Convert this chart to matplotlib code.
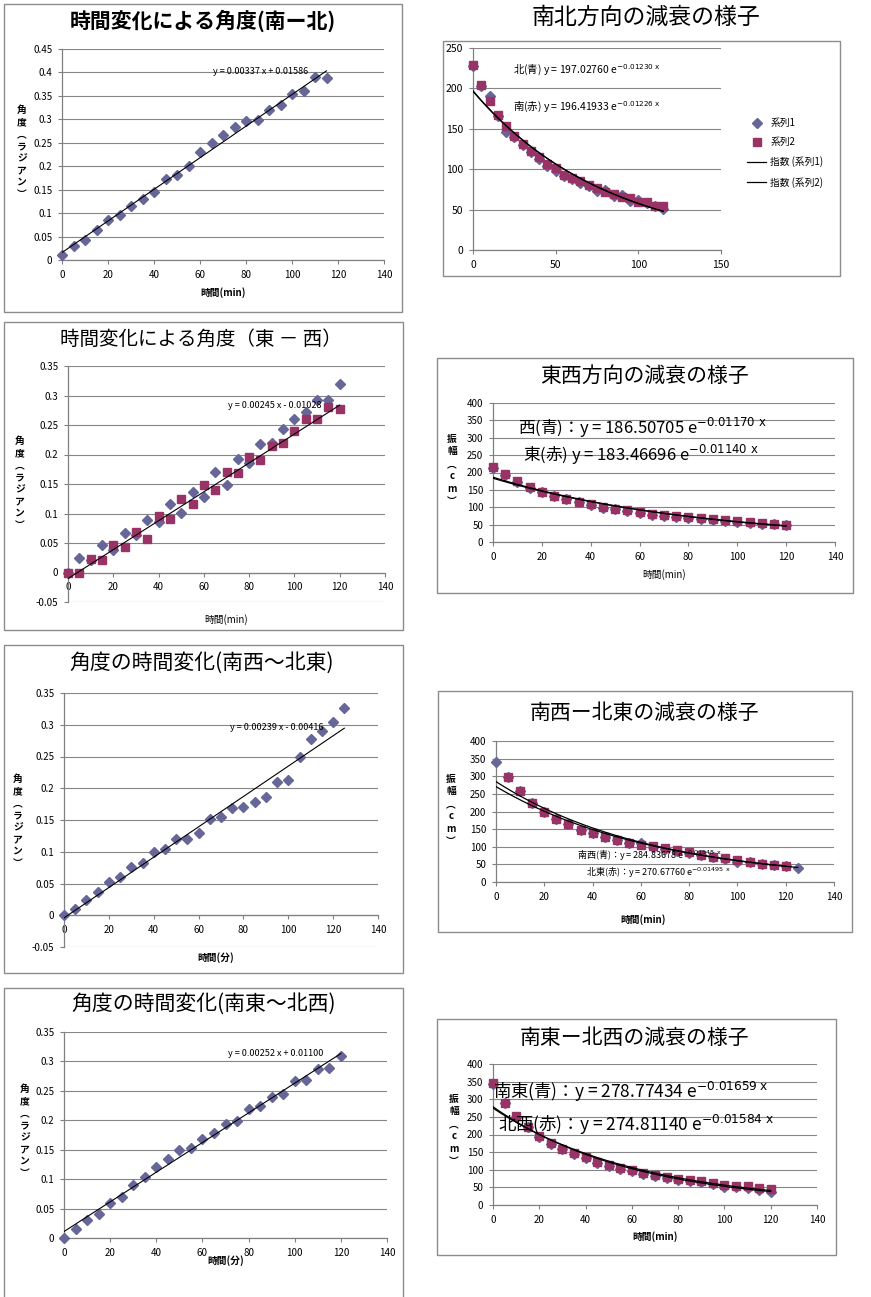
import numpy as np
import matplotlib.pyplot as plt

plt.rcParams['font.family'] = ['Noto Sans CJK JP', 'DejaVu Sans']
plt.rcParams['mathtext.fontset'] = 'dejavusans'

# ---- data ----
# 南北 angle
t_ns = np.arange(0, 120, 5)
ang_ns = [0.01, 0.03, 0.043, 0.065, 0.086, 0.097, 0.116, 0.13, 0.145, 0.173, 0.182, 0.2,
          0.23, 0.25, 0.267, 0.283, 0.297, 0.298, 0.32, 0.33, 0.354, 0.36, 0.39, 0.388]
fit_ns = (0.00337, 0.01586)

# 東西 angle (two series)
t_ew = np.arange(0, 125, 5)
ang_ew_blue = [0.0, 0.024, 0.022, 0.047, 0.038, 0.067, 0.064, 0.089, 0.086, 0.116, 0.101, 0.137, 0.128,
               0.17, 0.149, 0.192, 0.185, 0.218, 0.219, 0.244, 0.26, 0.272, 0.292, 0.293, 0.32]
ang_ew_red = [0.0, 0.0, 0.023, 0.022, 0.046, 0.043, 0.069, 0.057, 0.096, 0.09, 0.125, 0.116, 0.148,
              0.14, 0.17, 0.169, 0.196, 0.19, 0.215, 0.22, 0.24, 0.261, 0.261, 0.28, 0.277]
fit_ew = (0.00245, -0.01028)

# 南西~北東 angle
t_swne = np.arange(0, 130, 5)
ang_swne = [0.0, 0.01, 0.024, 0.036, 0.053, 0.061, 0.076, 0.082, 0.099, 0.104, 0.12, 0.12, 0.13,
            0.151, 0.154, 0.169, 0.17, 0.178, 0.187, 0.21, 0.213, 0.249, 0.278, 0.29, 0.304, 0.326]
fit_swne = (0.00239, -0.00416)

# 南東~北西 angle
t_senw = np.arange(0, 125, 5)
ang_senw = [0.0, 0.015, 0.03, 0.041, 0.06, 0.07, 0.09, 0.103, 0.121, 0.135, 0.15, 0.153, 0.169,
            0.179, 0.193, 0.198, 0.219, 0.224, 0.239, 0.244, 0.266, 0.268, 0.287, 0.288, 0.309]
fit_senw = (0.00252, 0.011)

# 南北 decay
amp_ns_blue = [228, 203, 190, 166, 146, 140, 130, 121, 113, 104, 98, 92, 88, 83, 79, 73, 74, 67,
               68, 61, 62, 58, 54, 51]
amp_ns_red = [229, 204, 184, 167, 154, 141, 131, 122, 115, 106, 101, 93, 89, 85, 80, 77, 72, 69,
              65, 64, 59, 59, 55, 54]
exp_ns = [(197.02760, 0.01230), (196.41933, 0.01226)]

# 東西 decay
amp_ew_blue = [213, 193, 174, 156, 143, 131, 123, 114, 106, 99, 94, 89, 84, 79, 75, 73, 69, 66,
               63, 61, 58, 55, 53, 51, 48]
amp_ew_red = [215, 195, 176, 158, 145, 133, 125, 116, 108, 101, 96, 91, 86, 81, 77, 75, 72, 68,
              65, 63, 60, 57, 55, 53, 50]
exp_ew = [(186.50705, 0.01170), (183.46696, 0.01140)]

# 南西-北東 decay
t_swne_red = np.arange(5, 125, 5)
amp_swne_blue = [340, 297, 257, 225, 199, 180, 165, 148, 138, 127, 118, 112, 112, 100, 93, 88, 82,
                 76, 70, 65, 58, 56, 50, 47, 44, 40]
amp_swne_red = [297, 257, 225, 199, 180, 165, 148, 138, 127, 118, 110, 106, 101, 96, 90, 85, 78,
                72, 67, 61, 58, 52, 49, 44]
exp_swne = [(284.83678, 0.01548), (270.67760, 0.01495)]

# 南東-北西 decay
amp_senw_blue = [343, 288, 250, 220, 194, 174, 158, 144, 132, 120, 111, 103, 96, 89, 83, 78, 72,
                 67, 64, 59, 50, 50, 47, 42, 38]
amp_senw_red = [345, 290, 252, 222, 196, 177, 160, 147, 135, 122, 113, 105, 98, 91, 85, 80, 75,
                70, 67, 62, 58, 55, 53, 48, 44]
exp_senw = [(278.77434, 0.01659), (274.81140, 0.01584)]

BLUE = '#666699'
RED = '#993366'
GRAY = '#868686'

W, H = 871, 1297
fig = plt.figure(figsize=(W / 100, H / 100), dpi=100)


def px_axes(x0, y0, x1, y1):
    return fig.add_axes([x0 / W, 1 - y1 / H, (x1 - x0) / W, (y1 - y0) / H])


def ftext(x, y, s, **kw):
    fig.text(x / W, 1 - y / H, s, **kw)


def frame(x0, y0, x1, y1):
    fig.add_artist(plt.Rectangle((x0 / W, 1 - y1 / H), (x1 - x0) / W, (y1 - y0) / H,
                                 transform=fig.transFigure, fill=False,
                                 edgecolor='#8c8c8c', lw=1.0))


def style(ax, xticks, yticks, xlim=(0, 140)):
    ax.set_xlim(*xlim)
    ax.set_ylim(yticks[0], yticks[-1])
    ax.set_xticks(xticks)
    ax.set_yticks(yticks)
    ax.set_yticklabels([f'{round(v, 3):g}' for v in yticks])
    for s in ['top', 'right']:
        ax.spines[s].set_visible(False)
    for s in ['left', 'bottom']:
        ax.spines[s].set_color('#808080')
        ax.spines[s].set_linewidth(0.9)
    if yticks[0] < 0:
        ax.spines['bottom'].set_position(('data', 0))
    ax.yaxis.grid(True, color=GRAY, lw=0.8)
    ax.set_axisbelow(True)
    ax.tick_params(direction='out', length=3, width=0.8, color='#808080', labelsize=7, pad=4)
    ax.patch.set_alpha(0)


def pts(ax, x, y, kind):
    if kind == 'b':
        ax.plot(x, y, 'D', ms=4.8, color=BLUE, mec=BLUE, clip_on=False, zorder=3)
    else:
        ax.plot(x, y, 's', ms=5.6, color=RED, mec=RED, clip_on=False, zorder=3)


def linfit(ax, x_end, coef):
    xs = np.array([0, x_end])
    ax.plot(xs, coef[0] * xs + coef[1], color='black', lw=0.8, zorder=4)


def expfit(ax, x_end, coef):
    xs = np.linspace(0, x_end, 100)
    return ax.plot(xs, coef[0] * np.exp(-coef[1] * xs), color='black', lw=0.9, zorder=4)[0]


ang_label = '\n'.join('角度︵ラジアン︶')
amp_label = '\n'.join('振幅︵cm︶')
yt_ang45 = list(np.arange(0, 0.451, 0.05))
yt_ang35 = list(np.arange(-0.05, 0.351, 0.05))
yt_amp = list(range(0, 401, 50))
xt = list(range(0, 141, 20))

# ---- panel 1: 時間変化による角度(南ー北) ----
frame(4, 4, 402, 312)
ax = px_axes(62, 49, 384, 260)
style(ax, xt, yt_ang45)
pts(ax, t_ns, ang_ns, 'b')
linfit(ax, 115, fit_ns)
ftext(203, 21, '時間変化による角度(南ー北)', fontsize=15, fontweight='bold', ha='center', va='center')
ftext(261, 71, 'y = 0.00337 x + 0.01586', fontsize=6.5, ha='center', va='center')
ftext(223, 293, '時間(min)', fontsize=7, fontweight='bold', ha='center', va='center')
ftext(22, 152, ang_label, fontsize=7, fontweight='bold', ha='center', va='center', linespacing=1.25)

# ---- panel 2: 南北方向の減衰の様子 ----
frame(443, 41, 840, 276)
ax = px_axes(473, 48, 721, 250)
style(ax, [0, 50, 100, 150], list(range(0, 251, 50)), xlim=(0, 150))
ax.tick_params(labelsize=7.5)
h1 = ax.plot(t_ns, amp_ns_blue, 'D', ms=4.8, color=BLUE, clip_on=False, zorder=3)[0]
h2 = ax.plot(t_ns, amp_ns_red, 's', ms=5.6, color=RED, clip_on=False, zorder=3)[0]
h3 = expfit(ax, 115, exp_ns[0])
h4 = expfit(ax, 115, exp_ns[1])
fig.legend([h1, h2, h3, h4], ['系列1', '系列2', '指数 (系列1)', '指数 (系列2)'],
           loc='upper left', bbox_to_anchor=(747 / W, 1 - 118 / H), frameon=False,
           fontsize=7, labelspacing=0.95, handlelength=2.0, handletextpad=0.4,
           borderaxespad=0, borderpad=0)
ftext(646, 17, '南北方向の減衰の様子', fontsize=16.5, ha='center', va='center')
ftext(513, 70, '北(青) y = 197.02760 e$^{-0.01230\\ \\mathrm{x}}$', fontsize=7.5, ha='left', va='center')
ftext(513, 107, '南(赤) y = 196.41933 e$^{-0.01226\\ \\mathrm{x}}$', fontsize=7.5, ha='left', va='center')

# ---- panel 3: 時間変化による角度（東－西） ----
frame(4, 322, 403, 630)
ax = px_axes(68, 366, 385, 602)
style(ax, xt, yt_ang35)
pts(ax, t_ew, ang_ew_blue, 'b')
pts(ax, t_ew, ang_ew_red, 'r')
linfit(ax, 120, fit_ew)
ftext(201, 339, '時間変化による角度（東 － 西）', fontsize=14, ha='center', va='center')
ftext(275, 405, 'y = 0.00245 x - 0.01028', fontsize=6.5, ha='center', va='center')
ftext(226, 620, '時間(min)', fontsize=7, ha='center', va='center')
ftext(20, 483, ang_label, fontsize=7, fontweight='bold', ha='center', va='center', linespacing=1.25)

# ---- panel 4: 東西方向の減衰の様子 ----
frame(437, 358, 853, 593)
ax = px_axes(493, 403, 835, 542)
style(ax, xt, yt_amp)
pts(ax, t_ew, amp_ew_blue, 'b')
pts(ax, t_ew, amp_ew_red, 'r')
expfit(ax, 120, exp_ew[0])
expfit(ax, 120, exp_ew[1])
ftext(645, 376, '東西方向の減衰の様子', fontsize=15, ha='center', va='center')
ftext(518, 428, '西(青)：y = 186.50705 e$^{-0.01170\\ \\mathrm{x}}$', fontsize=12, ha='left', va='center')
ftext(523, 455, '東(赤) y = 183.46696 e$^{-0.01140\\ \\mathrm{x}}$', fontsize=12, ha='left', va='center')
ftext(664, 575, '時間(min)', fontsize=7, ha='center', va='center')
ftext(452, 470, amp_label, fontsize=7, fontweight='bold', ha='center', va='center', linespacing=1.3)

# ---- panel 5: 角度の時間変化(南西～北東) ----
frame(4, 645, 403, 973)
ax = px_axes(64, 693, 378, 947)
style(ax, xt, yt_ang35)
pts(ax, t_swne, ang_swne, 'b')
linfit(ax, 125, fit_swne)
ftext(202, 663, '角度の時間変化(南西～北東)', fontsize=15, ha='center', va='center')
ftext(277, 728, 'y = 0.00239 x - 0.00416', fontsize=6.5, ha='center', va='center')
ftext(216, 958, '時間(分)', fontsize=7, fontweight='bold', ha='center', va='center')
ftext(18, 821, ang_label, fontsize=7, fontweight='bold', ha='center', va='center', linespacing=1.25)

# ---- panel 6: 南西ー北東の減衰の様子 ----
frame(438, 691, 852, 932)
ax = px_axes(496, 741, 834, 882)
style(ax, xt, yt_amp)
pts(ax, t_swne, amp_swne_blue, 'b')
pts(ax, t_swne_red, amp_swne_red, 'r')
expfit(ax, 125, exp_swne[0])
expfit(ax, 120, exp_swne[1])
ftext(645, 713, '南西ー北東の減衰の様子', fontsize=15, ha='center', va='center')
ftext(577, 856, '南西(青)：y = 284.83678 e$^{-0.01548\\ \\mathrm{x}}$', fontsize=6.5, ha='left', va='center')
ftext(586, 873, '北東(赤)：y = 270.67760 e$^{-0.01495\\ \\mathrm{x}}$', fontsize=6.5, ha='left', va='center')
ftext(643, 920, '時間(min)', fontsize=7, fontweight='bold', ha='center', va='center')
ftext(451, 810, amp_label, fontsize=7, fontweight='bold', ha='center', va='center', linespacing=1.3)

# ---- panel 7: 角度の時間変化(南東～北西) ----
frame(4, 988, 403, 1305)
ax = px_axes(64, 1032, 387, 1238)
style(ax, xt, yt_ang45[:8])
pts(ax, t_senw, ang_senw, 'b')
linfit(ax, 120, fit_senw)
ftext(204, 1004, '角度の時間変化(南東～北西)', fontsize=15, ha='center', va='center')
ftext(276, 1053, 'y = 0.00252 x + 0.01100', fontsize=6.5, ha='center', va='center')
ftext(226, 1261, '時間(分)', fontsize=7, fontweight='bold', ha='center', va='center')
ftext(25, 1131, ang_label, fontsize=7, fontweight='bold', ha='center', va='center', linespacing=1.25)

# ---- panel 8: 南東ー北西の減衰の様子 ----
frame(437, 1019, 836, 1255)
ax = px_axes(493, 1064, 817, 1205)
style(ax, xt, yt_amp)
pts(ax, t_senw, amp_senw_blue, 'b')
pts(ax, t_senw, amp_senw_red, 'r')
expfit(ax, 120, exp_senw[0])
expfit(ax, 120, exp_senw[1])
ftext(635, 1038, '南東ー北西の減衰の様子', fontsize=15, ha='center', va='center')
ftext(493, 1092, '南東(青)：y = 278.77434 e$^{-0.01659\\ \\mathrm{x}}$', fontsize=12.5, ha='left', va='center')
ftext(498, 1125, '北西(赤)：y = 274.81140 e$^{-0.01584\\ \\mathrm{x}}$', fontsize=12.5, ha='left', va='center')
ftext(655, 1237, '時間(min)', fontsize=7, fontweight='bold', ha='center', va='center')
ftext(454, 1130, amp_label, fontsize=7, fontweight='bold', ha='center', va='center', linespacing=1.3)

fig.savefig('out.png', dpi=100, facecolor='white')
